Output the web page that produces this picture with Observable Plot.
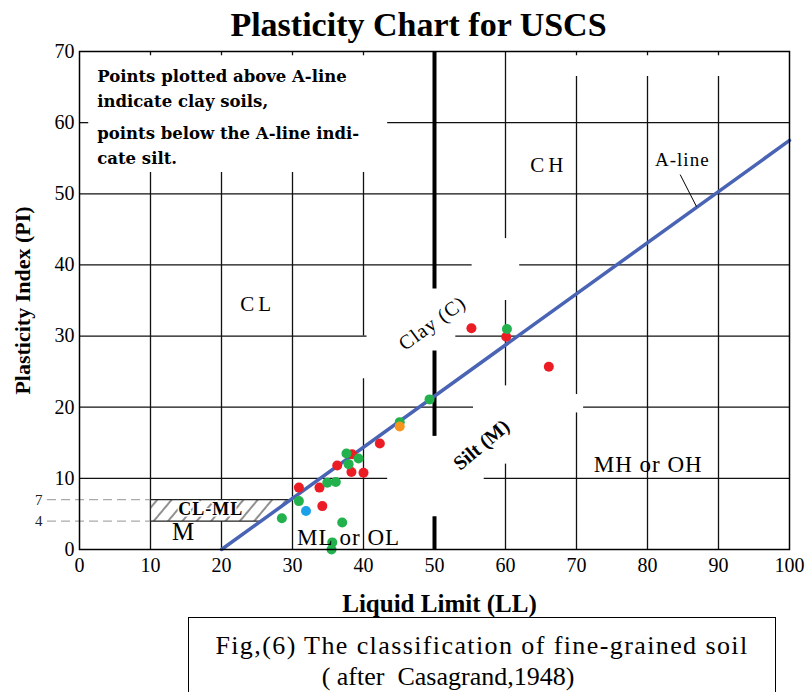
<!DOCTYPE html>
<html><head><meta charset="utf-8">
<script src="https://cdn.jsdelivr.net/npm/d3@7"></script>
<script src="https://cdn.jsdelivr.net/npm/@observablehq/plot@0.6"></script>
<style>
body{margin:0;background:#fff;}
#chart{position:absolute;left:0;top:0;}
#caption{position:absolute;left:188px;top:617px;width:588px;height:100px;border:1.5px solid #000;border-bottom:none;box-sizing:border-box;
font-family:"Liberation Serif",serif;font-size:26px;text-align:center;line-height:31px;padding-top:12px;color:#000;}
#caption .l1{display:block;letter-spacing:1.4px;}
#caption .l2{display:block;position:relative;left:-34px;}
</style></head><body>
<div id="chart"></div>
<div id="caption"><span class="l1">Fig,(6) The classification of fine-grained soil</span><span class="l2">( after&nbsp; Casagrand,1948)</span></div>
<script>
const titleText = "Plasticity Chart for USCS";
const xLabel = "Liquid Limit (LL)";
const yLabel = "Plasticity Index (PI)";
const xTicks = [0,10,20,30,40,50,60,70,80,90,100];
const yTicks = [0,10,20,30,40,50,60,70];
const yMinor = [4, 7];

// A-line endpoints [LL, PI]
const aLine = [[20,0],[100,57.5]];
// CL-ML hatched zone [LL, PI]
const clmlZone = [[10,4],[10,7],[29.6,7],[25.5,4],[10,4]];

// gridline pieces as drawn (blank patches in the original): [PI, LLfrom, LLto]
const hGrid = [[10,0,43.4],[10,57,100],[20,0,55.5],[20,71,100],[30,0,40.5],[30,53,100],
  [40,0,55.3],[40,62,100],[50,0,100],[60,0,1.3],[60,43.4,100]];
// [LL, PIfrom, PIto]
const vGrid = [[10,69.4,70],[10,0,53],[20,69.4,70],[20,0,53],[30,69.4,70],[30,0,53],
  [40,69.4,70],[40,30,53],[40,0,24],[60,43.7,70],[60,23,35],[60,0,12],
  [70,69.4,70],[70,21.8,66.5],[70,0,19.2],[80,69.4,70],[80,0,66.5],[90,69.4,70],[90,0,66.5]];
// LL = 50 divider pieces [PIfrom, PIto]
const llDivider = [[36.6,70],[15.9,27.9],[0,4.6]];

// samples [LL, PI]
const redSamples = [[30.9,8.7],[33.8,8.7],[34.2,6.1],[36.3,11.8],[38.4,13.4],[38.3,10.9],[40.0,10.8],[42.3,14.9],[55.2,31.1],[60.1,29.9],[66.1,25.7]];
const greenSamples = [[28.5,4.4],[30.9,6.8],[34.9,9.4],[36.1,9.5],[37.0,3.8],[35.6,1.0],[35.5,0],[37.6,13.5],[39.3,12.8],[37.9,12.0],[45.1,17.9],[49.3,21.1],[60.2,31.0]];
const orangeSamples = [[45.1,17.3]];
const blueSamples = [[31.9,5.4]];

const noteLines = ["Points plotted above A-line","indicate clay soils,","points below the A-line indi-","cate silt."];
const notePI = [66.4, 63.0, 58.4, 54.9];

const zoneLabels = [
  {t:"CL", ll:25.1, pi:34.5, s:21},
  {t:"CH", ll:66.1, pi:54.0, s:21},
  {t:"MH or OH", ll:80.1, pi:12.0, s:23},
  {t:"ML or OL", ll:37.9, pi:1.7, s:23},
  {t:"M", ll:14.6, pi:2.4, s:25}
];
const clayLabel = {t:"Clay (C)", ll:49.7, pi:31.8};
const siltLabel = {t:"Silt (M)", ll:56.6, pi:14.7};
const clmlLabel = {t:"CL-ML", ll:18.5, pi:5.7};
const aLineLabel = {t:"A-line", ll:84.9, pi:54.8};
const aLineLeader = [{x1:84.6, y1:52.7, x2:86.9, y2:48.2}];

const serif = "'Liberation Serif', 'Times New Roman', serif";
const ink = "#111";

const plot = Plot.plot({
  width: 808, height: 617,
  marginLeft: 79, marginRight: 19, marginTop: 51, marginBottom: 68,
  style: {fontFamily: serif, fontSize: "20px", background: "#fff", color: "#000"},
  x: {domain: [0,100], ticks: xTicks, tickSize: 0, tickPadding: 8, label: null},
  y: {domain: [0,70], ticks: yTicks, tickSize: 0, tickPadding: 5, label: null},
  marks: [
    Plot.ruleY(hGrid, {y: d => d[0], x1: d => d[1], x2: d => d[2], stroke: ink, strokeWidth: 1.3}),
    Plot.ruleX(vGrid, {x: d => d[0], y1: d => d[1], y2: d => d[2], stroke: ink, strokeWidth: 1.3}),
    Plot.ruleX(llDivider, {x: 50, y1: d => d[0], y2: d => d[1], stroke: "#000", strokeWidth: 4}),
    Plot.ruleY(yMinor, {y: d => d, x1: -4.5, x2: 10, stroke: "#aaa", strokeWidth: 1.3, strokeDasharray: "9,5"}),
    Plot.text(yMinor, {y: d => d, frameAnchor: "left", dx: -37, textAnchor: "end", text: d => String(d), fontSize: 15, fill: "#222"}),
    Plot.line(clmlZone, {x: d => d[0], y: d => d[1], fill: "url(#hatch)", stroke: "#222", strokeWidth: 1.2}),
    Plot.line(aLine, {x: d => d[0], y: d => d[1], stroke: "#4a64b5", strokeWidth: 3.5}),
    Plot.link(aLineLeader, {x1: "x1", y1: "y1", x2: "x2", y2: "y2", stroke: "#000", strokeWidth: 1}),
    Plot.dot(redSamples, {x: d => d[0], y: d => d[1], r: 5, fill: "#ec1c24"}),
    Plot.dot(greenSamples, {x: d => d[0], y: d => d[1], r: 5, fill: "#22b14c"}),
    Plot.dot(orangeSamples, {x: d => d[0], y: d => d[1], r: 5, fill: "#f7941d"}),
    Plot.dot(blueSamples, {x: d => d[0], y: d => d[1], r: 5, fill: "#1ba1e8"}),
    Plot.text(noteLines, {x: 2.5, y: (d, i) => notePI[i], text: d => d, textAnchor: "start",
      fontFamily: "'DejaVu Serif', serif", fontWeight: "bold", fontSize: 16.5, fill: "#000"}),
    Plot.text(zoneLabels, {x: "ll", y: "pi", text: "t", fontSize: d => d.s, fill: "#000"}),
    Plot.text([clayLabel], {x: "ll", y: "pi", text: "t", fontSize: 20, rotate: -36, fill: "#000"}),
    Plot.text([siltLabel], {x: "ll", y: "pi", text: "t", fontSize: 20, fontWeight: "bold", rotate: -40, fill: "#000"}),
    Plot.text([clmlLabel], {x: "ll", y: "pi", text: "t", fontSize: 18, fontWeight: "bold", fill: "#000", stroke: "#fff", strokeWidth: 3}),
    Plot.text([aLineLabel], {x: "ll", y: "pi", text: "t", fontSize: 19, fill: "#000"}),
    Plot.frame({stroke: "#000", strokeWidth: 1.5}),
    Plot.text([titleText], {frameAnchor: "top", lineAnchor: "middle", dy: -26, dx: -16, fontSize: 34, fontWeight: "bold", fill: "#000"}),
    Plot.text([xLabel], {frameAnchor: "bottom", lineAnchor: "middle", dy: 54, dx: 5, fontSize: 25, fontWeight: "bold", fill: "#000"}),
    Plot.text([yLabel], {frameAnchor: "left", textAnchor: "middle", dx: -57, rotate: -90, fontSize: 22, fontWeight: "bold", fill: "#000"})
  ]
});

const svg = d3.select(plot);
const defs = svg.insert("defs", ":first-child");
const pat = defs.append("pattern").attr("id", "hatch").attr("patternUnits", "userSpaceOnUse")
  .attr("width", 11).attr("height", 11).attr("patternTransform", "rotate(40)");
pat.append("rect").attr("width", 11).attr("height", 11).attr("fill", "#fff");
pat.append("line").attr("x1", 1).attr("y1", 0).attr("x2", 1).attr("y2", 11).attr("stroke", "#222").attr("stroke-width", 1);
svg.selectAll("text").filter(function(){ return this.textContent === "CL" || this.textContent === "CH"; }).style("letter-spacing", "4px");
svg.selectAll("text").filter(function(){ return ["Clay (C)", "MH or OH", "ML or OL", "A-line", "CL-ML"].includes(this.textContent); }).style("letter-spacing", "1px");
document.getElementById("chart").appendChild(plot);
</script>
</body></html>
